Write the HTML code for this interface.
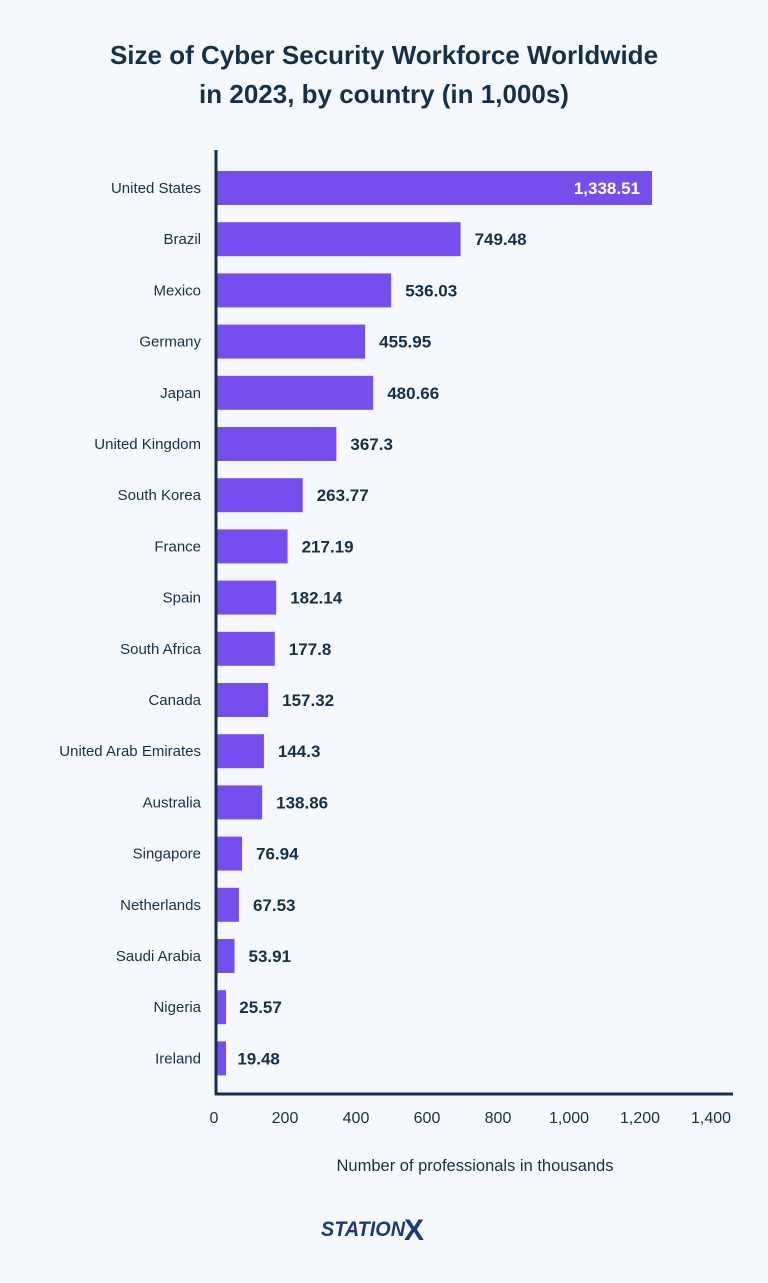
<!DOCTYPE html>
<html><head><meta charset="utf-8">
<style>
body{margin:0;background:#f5f9fd;font-family:"Liberation Sans",sans-serif;}
#wrap{position:relative;width:768px;height:1283px;overflow:hidden;background:#f5f9fd;}
h1{position:absolute;top:36px;left:0;width:768px;margin:0;text-align:center;font-size:26px;line-height:39px;color:#15304a;font-weight:bold;}
</style></head>
<body>
<div id="wrap">
<h1>Size of Cyber Security Workforce Worldwide<br>in 2023, by country (in 1,000s)</h1>
<svg id="chart" width="768" height="1283" style="position:absolute;left:0;top:0"></svg>
</div>
<script>
const categories=["United States","Brazil","Mexico","Germany","Japan","United Kingdom","South Korea","France","Spain","South Africa","Canada","United Arab Emirates","Australia","Singapore","Netherlands","Saudi Arabia","Nigeria","Ireland"];
const values=[1338.51,749.48,536.03,455.95,480.66,367.3,263.77,217.19,182.14,177.8,157.32,144.3,138.86,76.94,67.53,53.91,25.57,19.48];
const valueLabels=["1,338.51","749.48","536.03","455.95","480.66","367.3","263.77","217.19","182.14","177.8","157.32","144.3","138.86","76.94","67.53","53.91","25.57","19.48"];
const ticks=[0,200,400,600,800,1000,1200,1400];
const tickLabels=["0","200","400","600","800","1,000","1,200","1,400"];
const NS="http://www.w3.org/2000/svg";
const svg=document.getElementById('chart');
const x0=217, pxPer=0.325;
const xs=v=>x0+v*pxPer;
const ys=i=>188+i*51.2;
function mk(t,a,txt){const e=document.createElementNS(NS,t);for(const k in a)e.setAttribute(k,a[k]);if(txt!=null)e.textContent=txt;svg.appendChild(e);return e;}
categories.forEach((c,i)=>{
  const y=ys(i);
  const r=mk('rect',{x:x0,y:y-17,width:Math.max(values[i]*pxPer,9),height:34,fill:'#744fee'});
  
  
  const l=mk('text',{x:201,y:y+5,'text-anchor':'end','font-size':15,fill:'#15304a'},c);
  
  
  const inside=values[i]>1200;
  const v=mk('text',{x:inside?xs(values[i])-12:xs(values[i])+14,y:y+6,'text-anchor':inside?'end':'start','font-size':17,'font-weight':'bold',fill:inside?'#ffffff':'#15304a'},valueLabels[i]);
  
  
});
const ya=mk('line',{x1:216,y1:150,x2:216,y2:1095,stroke:'#15304a','stroke-width':3});


const xa=mk('line',{x1:215,y1:1094,x2:733,y2:1094,stroke:'#15304a','stroke-width':3});


ticks.forEach((t,i)=>{
  const e=mk('text',{x:214+t*0.355,y:1123,'text-anchor':'middle','font-size':16,fill:'#15304a'},tickLabels[i]);
  
  
});
const xt=mk('text',{x:475,y:1171,'text-anchor':'middle','font-size':16.5,fill:'#15304a'},'Number of professionals in thousands');


const lt=mk('text',{x:321,y:1236,'font-size':21,'font-weight':'bold','font-style':'italic',fill:'#1c3a7a',textLength:84,lengthAdjust:'spacingAndGlyphs'},'STATION');


const lx=mk('text',{x:404,y:1240,'font-size':30,'font-weight':'bold',fill:'#1c3a7a'},'X');


</script>
</body></html>
